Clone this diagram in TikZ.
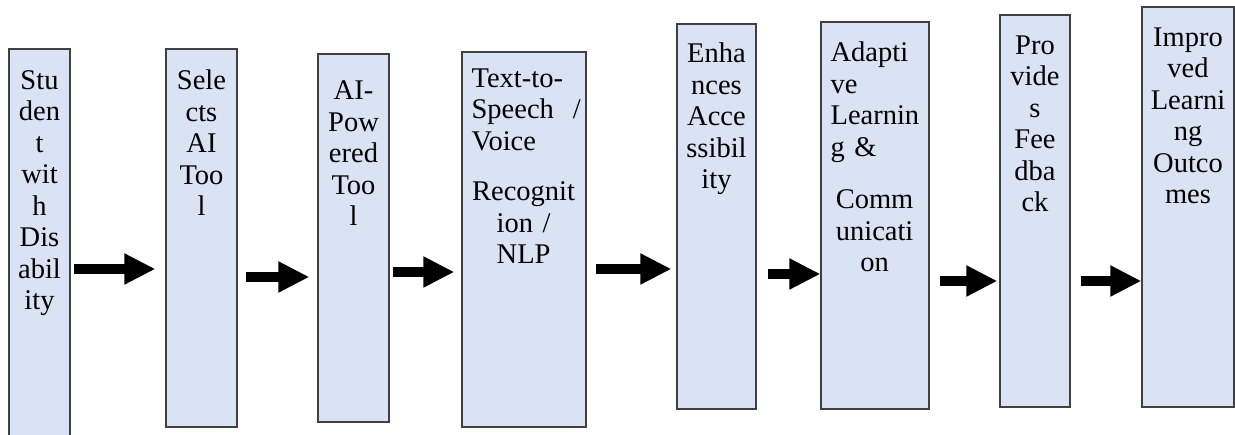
\documentclass[tikz,border=0pt]{standalone}
\usepackage{fontspec}
\setmainfont{Liberation Serif}
\usetikzlibrary{arrows.meta}
\definecolor{myblue}{RGB}{218,227,243}
\definecolor{mygrey}{RGB}{64,64,64}

\begin{document}
\begin{tikzpicture}
	[x=1pt,y=-1pt,
	box/.style={draw=mygrey,line width=1.2pt,fill=myblue,inner sep=0pt},
	words/.style={anchor=north,inner sep=0pt,align=center,font=\fontsize{28.5}{31.5}\selectfont},
	flow/.style={line width=10pt,-{Triangle[length=31pt,width=29pt]}}]
	\useasboundingbox (0,0) rectangle (1235,435);
	\node[box,minimum width=61pt,minimum height=391pt] (1) at (39.5,244.5) {};
	\node[box,minimum width=71pt,minimum height=378pt] (2) at (201.5,238) {};
	\node[box,minimum width=71pt,minimum height=368pt] (3) at (353.5,238) {};
	\node[box,minimum width=124pt,minimum height=375pt] (4) at (524,239.5) {};
	\node[box,minimum width=79pt,minimum height=385pt] (5) at (716.5,216.5) {};
	\node[box,minimum width=108pt,minimum height=387pt] (6) at (875,215.5) {};
	\node[box,minimum width=70pt,minimum height=392pt] (7) at (1035,211) {};
	\node[box,minimum width=92pt,minimum height=400pt] (8) at (1188,207) {};
	
	\node[words,yshift=-21.8pt] (l1) at (1.north) {Stu\\den\\t\\wit\\h\\Dis\\abil\\ity};
	\node[words,yshift=-21.5pt] (l2) at (2.north) {Sele\\cts\\AI\\Too\\l};
	\node[words,yshift=-27.2pt] (l3) at (3.north) {AI-\\Pow\\ered\\Too\\l};
	\node[words,anchor=north west,text width=104pt,xshift=10pt,yshift=-17.2pt] (l4) at (4.north west)
		{\raggedright Text-to-\\\mbox{Speech\ \ /}\\Voice\par\vspace{19pt}\centering Recognit\\ion /\\NLP};
	\node[words,yshift=-19.5pt] (l5) at (5.north) {Enha\\nces\\Acce\\ssibil\\ity};
	\node[words,anchor=north west,text width=88pt,xshift=10pt,yshift=-20.5pt] (l6) at (6.north west)
		{\raggedright Adapti\\ve\\Learnin\\g \&\par\vspace{21pt}\centering Comm\\unicati\\on};
	\node[words,yshift=-21pt] (l7) at (7.north) {Pro\\vide\\s\\Fee\\dba\\ck};
	\node[words,yshift=-21pt] (l8) at (8.north) {Impro\\ved\\Learni\\ng\\Outco\\mes};
	
	\foreach \a/\b/\y/\s/\e in {1/2/269/3/10,2/3/277/8/8,3/4/272/3/7,4/5/269/9/5,5/6/274/11/0,6/7/281/10/2,7/8/281/10/0}
	\draw[flow,shorten <=\s pt,shorten >=\e pt] (\a.east |- 0,\y) -- (\b.west |- 0,\y);
\end{tikzpicture}
\end{document}
